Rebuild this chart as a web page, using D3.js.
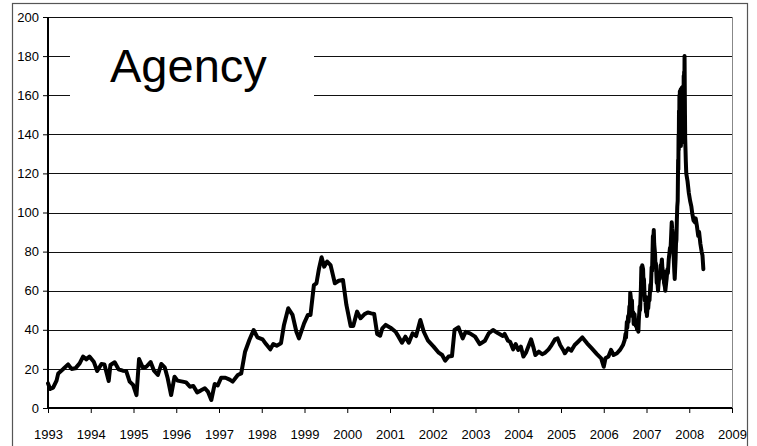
<!DOCTYPE html>
<html>
<head>
<meta charset="utf-8">
<script src="https://cdn.jsdelivr.net/npm/d3@7"></script>
<style>
  body { margin: 0; background: #fff; }
  svg { display: block; font-family: "Liberation Sans", Arial, sans-serif; }
</style>
</head>
<body>
<script>
// Values (decimal year, price)
const yearTicks = [1993, 1994, 1995, 1996, 1997, 1998, 1999, 2000, 2001, 2002, 2003, 2004, 2005, 2006, 2007, 2008, 2009];
const valueTicks = [0, 20, 40, 60, 80, 100, 120, 140, 160, 180, 200];
const titleText = "Agency";

const dates = [
  1993.00, 1993.05, 1993.12, 1993.20, 1993.24, 1993.35, 1993.47, 1993.55, 1993.64, 1993.74,
  1993.82, 1993.90, 1993.97, 1994.07, 1994.15, 1994.25, 1994.32, 1994.42, 1994.46, 1994.56,
  1994.65, 1994.75, 1994.83, 1994.91, 1994.99, 1995.07, 1995.13, 1995.22, 1995.30, 1995.40,
  1995.48, 1995.57, 1995.65, 1995.73, 1995.80, 1995.88, 1995.96, 1996.03, 1996.15, 1996.23,
  1996.32, 1996.40, 1996.49, 1996.57, 1996.67, 1996.74, 1996.82, 1996.90, 1996.97, 1997.05,
  1997.15, 1997.25, 1997.32, 1997.44, 1997.52, 1997.61, 1997.71, 1997.81, 1997.90, 1998.02,
  1998.10, 1998.20, 1998.27, 1998.35, 1998.45, 1998.52, 1998.62, 1998.72, 1998.81, 1998.87,
  1998.99, 1999.08, 1999.14, 1999.22, 1999.28, 1999.34, 1999.40, 1999.46, 1999.53, 1999.61,
  1999.71, 1999.80, 1999.90, 1999.98, 2000.08, 2000.14, 2000.23, 2000.31, 2000.40, 2000.48,
  2000.56, 2000.63, 2000.70, 2000.77, 2000.82, 2000.90, 2001.01, 2001.13, 2001.20, 2001.28,
  2001.36, 2001.44, 2001.53, 2001.61, 2001.71, 2001.79, 2001.89, 2002.02, 2002.14, 2002.22,
  2002.29, 2002.37, 2002.45, 2002.51, 2002.60, 2002.70, 2002.77, 2002.87, 2002.99, 2003.10,
  2003.22, 2003.31, 2003.41, 2003.53, 2003.64, 2003.68, 2003.76, 2003.81, 2003.88, 2003.94,
  2004.00, 2004.06, 2004.12, 2004.18, 2004.25, 2004.30, 2004.35, 2004.40, 2004.48, 2004.56,
  2004.63, 2004.71, 2004.78, 2004.86, 2004.92, 2004.98, 2005.05, 2005.09, 2005.17, 2005.24,
  2005.32, 2005.40, 2005.50, 2005.61, 2005.72, 2005.84, 2005.94, 2006.00, 2006.04, 2006.11,
  2006.17, 2006.23, 2006.31, 2006.38, 2006.45, 2006.49,
  // denser readings from mid 2006 on
  2006.51, 2006.52, 2006.54, 2006.55, 2006.57, 2006.58, 2006.60, 2006.61, 2006.62, 2006.63,
  2006.65, 2006.66, 2006.67, 2006.69, 2006.70, 2006.72, 2006.73, 2006.75, 2006.76, 2006.78,
  2006.79, 2006.81, 2006.82, 2006.84, 2006.85, 2006.87, 2006.88, 2006.89, 2006.90, 2006.92,
  2006.93, 2006.94, 2006.96, 2006.97, 2006.99, 2007.00, 2007.01, 2007.03, 2007.04, 2007.06,
  2007.07, 2007.09, 2007.10, 2007.12, 2007.13, 2007.15, 2007.16, 2007.17, 2007.18, 2007.20,
  2007.21, 2007.22, 2007.24, 2007.25, 2007.27, 2007.28, 2007.30, 2007.31, 2007.33, 2007.34,
  2007.36, 2007.37, 2007.39, 2007.40, 2007.41, 2007.43, 2007.44, 2007.46, 2007.47, 2007.49,
  2007.50, 2007.52, 2007.53, 2007.55, 2007.56, 2007.58, 2007.59, 2007.60, 2007.62, 2007.63,
  2007.65, 2007.66, 2007.68, 2007.69, 2007.70, 2007.71, 2007.72, 2007.73,
  // peak, daily readings
  2007.740, 2007.745, 2007.750, 2007.755, 2007.760, 2007.765, 2007.770, 2007.775, 2007.780, 2007.785,
  2007.790, 2007.795, 2007.800, 2007.805, 2007.810, 2007.815, 2007.820, 2007.825, 2007.830, 2007.835,
  2007.840, 2007.845, 2007.850, 2007.855, 2007.860, 2007.865, 2007.870, 2007.875, 2007.880, 2007.885,
  2007.890, 2007.895, 2007.900, 2007.905, 2007.910, 2007.920, 2007.930,
  // after the peak
  2007.96, 2007.99, 2008.02, 2008.05, 2008.07, 2008.10, 2008.13, 2008.15, 2008.18, 2008.21,
  2008.23, 2008.26, 2008.29, 2008.31, 2008.33
];

const prices = [
  12.6, 9.7, 10.4, 14.0, 17.7, 19.8, 22.3, 20.0, 20.3, 22.8,
  26.3, 24.9, 26.3, 23.7, 18.9, 22.5, 22.3, 13.8, 22.0, 23.4,
  19.8, 19.1, 18.9, 13.5, 11.8, 6.6, 25.1, 20.6, 21.1, 23.5,
  19.1, 16.9, 22.5, 20.8, 15.2, 6.6, 16.0, 14.0, 13.5, 13.1,
  10.9, 11.3, 8.0, 8.9, 10.1, 8.4, 4.1, 12.3, 11.5, 15.5,
  15.5, 14.5, 13.5, 16.9, 17.7, 28.8, 34.8, 39.9, 36.1, 35.1,
  32.7, 30.0, 32.7, 31.9, 33.1, 42.5, 51.0, 47.6, 39.0, 35.6,
  43.3, 47.6, 47.6, 62.9, 63.8, 71.4, 77.1, 72.3, 74.9, 73.1,
  63.8, 65.1, 65.5, 52.7, 41.9, 41.9, 49.3, 45.9, 47.9, 48.9,
  48.4, 48.1, 37.9, 37.0, 40.7, 42.5, 41.1, 39.0, 36.5, 33.4,
  36.5, 33.4, 38.2, 36.8, 45.0, 39.0, 34.4, 31.4, 28.3, 27.1,
  24.2, 26.3, 26.6, 39.9, 41.3, 35.6, 39.0, 38.2, 36.5, 32.7,
  34.4, 38.2, 39.9, 38.2, 36.8, 37.9, 34.4, 33.9, 30.0, 32.7,
  29.7, 31.4, 26.3, 28.3, 32.2, 35.1, 31.4, 27.1, 28.8, 27.5,
  28.3, 30.0, 32.2, 35.1, 35.6, 32.2, 29.7, 28.0, 30.5, 29.3,
  32.2, 33.9, 36.1, 33.1, 30.5, 27.6, 25.4, 21.1, 25.4, 26.3,
  29.7, 27.1, 28.0, 29.7, 32.2, 34.8,
  38.0, 36.0, 44.0, 41.0, 47.0, 44.0, 52.0, 50.0, 59.0, 57.0,
  52.0, 55.0, 47.0, 49.0, 43.0, 48.0, 45.0, 42.0, 44.0, 40.0,
  43.0, 39.0, 45.0, 52.0, 50.0, 62.0, 72.0, 68.0, 73.0, 71.0,
  64.0, 66.0, 55.0, 57.0, 49.0, 51.0, 47.0, 53.0, 51.0, 57.0,
  55.0, 63.0, 60.0, 72.0, 70.0, 88.0, 86.0, 91.0, 84.0, 79.0,
  72.0, 74.0, 64.0, 66.0, 60.0, 63.0, 68.0, 66.0, 73.0, 71.0,
  76.0, 72.0, 68.0, 70.0, 64.0, 62.0, 60.0, 64.0, 66.0, 71.0,
  69.0, 76.0, 78.0, 82.0, 80.0, 90.0, 95.0, 92.0, 88.0, 80.0,
  70.0, 66.0, 76.0, 84.0, 86.0, 96.0, 103.0, 106.0,
  127.0, 122.0, 140.0, 132.0, 152.0, 136.0, 160.0, 138.0, 162.0, 135.0,
  158.0, 137.0, 163.0, 134.0, 160.0, 138.0, 162.0, 136.0, 164.0, 140.0,
  163.0, 136.0, 160.0, 140.0, 165.0, 145.0, 170.0, 150.0, 172.0, 160.0,
  180.0, 165.0, 150.0, 138.0, 134.0, 126.0, 120.0,
  116.0, 110.0, 106.0, 103.0, 99.6, 96.0, 95.0, 97.0, 93.0, 88.0,
  90.0, 84.0, 80.0, 78.0, 71.0
];

const width = 757, height = 446;
const plot = {left: 48, right: 732, top: 17, bottom: 408};

const x = d3.scaleLinear().domain([1993, 2009]).range([plot.left, plot.right]);
const y = d3.scaleLinear().domain([0, 200]).range([plot.bottom, plot.top]);

const svg = d3.select("body").append("svg")
    .attr("width", width)
    .attr("height", height);

svg.append("rect").attr("width", width).attr("height", height).attr("fill", "#fff");

// outer chart frame (bottom runs off the picture)
svg.append("rect")
    .attr("x", 12.5).attr("y", 3.5)
    .attr("width", 735).attr("height", 460)
    .attr("fill", "none")
    .attr("stroke", "#555")
    .attr("stroke-width", 1.2);

// gridlines
svg.append("g")
    .selectAll("line")
    .data(valueTicks.filter(d => d > 0))
    .join("line")
    .attr("x1", plot.left).attr("x2", plot.right)
    .attr("y1", d => Math.round(y(d)) + 0.5).attr("y2", d => Math.round(y(d)) + 0.5)
    .attr("stroke", "#111")
    .attr("stroke-width", 1);

// right plot border
svg.append("line")
    .attr("x1", plot.right + 0.5).attr("x2", plot.right + 0.5)
    .attr("y1", plot.top).attr("y2", plot.bottom)
    .attr("stroke", "#888");

// title with white box behind it
svg.append("rect")
    .attr("x", 70).attr("y", 30)
    .attr("width", 244).attr("height", 88)
    .attr("fill", "#fff");

svg.append("text")
    .attr("x", 110).attr("y", 82)
    .attr("font-size", 47)
    .attr("fill", "#000")
    .text(titleText);

// axes
const xAxis = d3.axisBottom(x).tickValues(yearTicks).tickFormat(d3.format("d")).tickSize(5).tickPadding(17);
const yAxis = d3.axisLeft(y).tickValues(valueTicks).tickSize(5).tickPadding(4);

const gx = svg.append("g")
    .attr("transform", "translate(0," + plot.bottom + ")")
    .call(xAxis);
gx.select(".domain").attr("stroke-width", 2).attr("d", "M" + plot.left + ",0H" + plot.right);
gx.selectAll("text").attr("font-size", 13).attr("font-family", "Liberation Sans, Arial, sans-serif").attr("fill", "#000");

const gy = svg.append("g")
    .attr("transform", "translate(" + plot.left + ",0)")
    .call(yAxis);
gy.select(".domain").attr("stroke-width", 2).attr("d", "M0," + plot.top + "V" + plot.bottom);
gy.selectAll("text").attr("font-size", 13).attr("font-family", "Liberation Sans, Arial, sans-serif").attr("fill", "#000");

// the price line
const series = dates.map((d, i) => ({date: d, price: prices[i]}));
const line = d3.line()
    .x(d => x(d.date))
    .y(d => y(d.price));

svg.append("path")
    .attr("d", line(series))
    .attr("fill", "none")
    .attr("stroke", "#000")
    .attr("stroke-width", 4)
    .attr("stroke-linejoin", "round")
    .attr("stroke-linecap", "round");
</script>
</body>
</html>
